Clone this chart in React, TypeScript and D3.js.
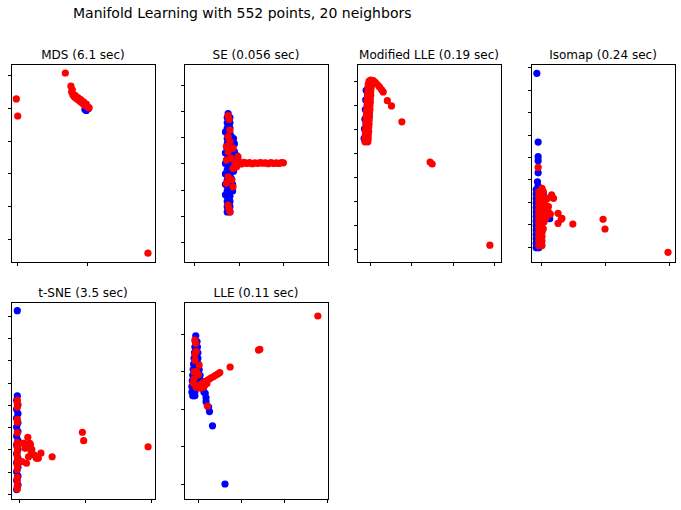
import React from "react";
import * as d3 from "d3";

type Pt = [number, number];

const suptitle = "Manifold Learning with 552 points, 20 neighbors";
const titles = ["MDS (6.1 sec)", "SE (0.056 sec)", "Modified LLE (0.19 sec)", "Isomap (0.24 sec)", "t-SNE (3.5 sec)", "LLE (0.11 sec)"];

// ---- MDS ----
const mdsBlue: Pt[] = [[0.99, 3.92], [1.0, 3.96], [0.97, 3.95], [1.02, 3.98]];
const mdsRed: Pt[] = [
  [0.69, 5.06], [0.77, 4.66], [0.79, 4.55], [0.78, 4.48], [0.80, 4.38], [0.82, 4.33], [0.84, 4.30],
  [0.86, 4.27], [0.88, 4.24], [0.90, 4.20], [0.92, 4.17], [0.94, 4.13], [0.96, 4.10], [0.98, 4.07],
  [1.00, 4.04], [1.02, 4.01], [1.03, 4.00], [0.83, 4.38], [0.87, 4.31], [0.91, 4.25], [0.95, 4.18],
  [0.99, 4.11], [-0.01, 4.27], [0.01, 3.75], [1.87, -0.43],
];

// ---- SE ----
const seBlue: Pt[] = [
  [0.74, 1.15], [0.80, 1.15], [0.74, 1.35], [0.80, 1.35], [0.74, 1.55], [0.80, 1.55], [0.74, 1.75], [0.80, 1.75],
  [0.74, 1.95], [0.80, 1.95], [0.74, 2.15], [0.80, 2.15], [0.74, 2.35], [0.80, 2.35], [0.74, 2.55], [0.80, 2.55],
  [0.74, 2.75], [0.80, 2.75], [0.74, 2.95], [0.80, 2.95], [0.74, 3.15], [0.80, 3.15], [0.74, 3.35], [0.80, 3.35],
  [0.74, 3.55], [0.80, 3.55], [0.74, 3.75], [0.80, 3.75], [0.74, 3.95], [0.80, 3.95], [0.74, 4.15], [0.80, 4.15],
  [0.74, 4.35], [0.80, 4.35], [0.74, 4.55], [0.80, 4.55], [0.74, 4.75], [0.80, 4.75], [0.76, 4.90],
  [0.86, 3.60], [0.90, 3.45], [0.95, 3.30], [0.98, 3.15], [0.92, 3.10], [0.86, 2.90], [0.88, 2.70], [0.84, 2.40],
  [0.86, 3.30], [0.84, 4.00], [0.86, 2.20], [0.70, 3.00], [0.70, 2.60], [0.70, 3.40], [0.70, 1.80],
  [0.90, 3.75], [0.94, 2.95], [0.88, 3.95], [0.86, 1.95], [0.70, 4.20], [0.70, 2.20],
];
const seRed: Pt[] = [
  [0.76, 4.82], [0.78, 4.68], [0.80, 4.27], [0.76, 4.02], [0.80, 3.83], [0.72, 3.64], [0.87, 3.58], [0.76, 3.45],
  [0.98, 3.26], [0.72, 3.13], [0.91, 3.02], [0.87, 2.81], [0.95, 2.87], [0.76, 2.49], [0.84, 2.37], [0.72, 2.24],
  [0.87, 2.11], [0.76, 1.41], [0.80, 1.16], [0.78, 1.28], [0.82, 3.20],
  [1.00, 3.05], [1.06, 2.98], [1.12, 3.04], [1.18, 3.00], [1.24, 3.03], [1.30, 2.99], [1.36, 3.02], [1.42, 3.00],
  [1.48, 3.03], [1.54, 3.01], [1.60, 3.02], [1.66, 2.99], [1.72, 3.03], [1.78, 3.00], [1.84, 3.02], [1.90, 3.00],
  [1.96, 3.03], [2.00, 3.02],
];

// ---- Modified LLE ----
const mlleBlue: Pt[] = [[-0.14, 4.6], [-0.13, 5.0], [-0.12, 5.4], [-0.11, 5.8], [-0.10, 6.2], [-0.09, 6.6]];
const mlleRed: Pt[] = [
  [-0.12, 4.46], [-0.05, 4.46], [-0.12, 4.60], [-0.04, 4.60], [-0.11, 4.75], [-0.04, 4.75], [-0.11, 4.90], [-0.03, 4.90],
  [-0.10, 5.05], [-0.03, 5.05], [-0.10, 5.20], [-0.02, 5.20], [-0.09, 5.35], [-0.02, 5.35], [-0.09, 5.50], [-0.01, 5.50],
  [-0.08, 5.65], [-0.01, 5.65], [-0.08, 5.80], [0.00, 5.80], [-0.07, 5.95], [0.00, 5.95], [-0.07, 6.10], [0.01, 6.10],
  [-0.06, 6.25], [0.01, 6.25], [-0.06, 6.40], [0.02, 6.40], [-0.05, 6.55], [0.02, 6.55], [-0.05, 6.70], [0.03, 6.70],
  [-0.04, 6.85], [0.03, 6.85], [-0.02, 6.98], [0.02, 7.02],
  [0.08, 7.00], [0.13, 6.93], [0.18, 6.84], [0.23, 6.74], [0.28, 6.63], [0.32, 6.53],
  [0.42, 6.17], [0.52, 5.95], [0.77, 5.29], [1.45, 3.62], [1.50, 3.54], [2.89, 0.17],
];

// ---- Isomap ----
const isoBlue: Pt[] = [
  [-0.06, 7.74], [-0.04, 4.67], [-0.04, 4.02], [-0.04, 3.84], [-0.04, 3.30], [-0.05, 2.90], [-0.04, 2.71],
  [-0.07, -0.05], [-0.03, -0.05], [-0.07, 0.15], [-0.07, 0.35], [-0.07, 0.55], [-0.07, 0.75], [-0.07, 0.95],
  [-0.07, 1.15], [-0.07, 1.35], [-0.07, 1.55], [-0.07, 1.75], [-0.07, 1.95], [-0.07, 2.15], [-0.07, 2.35],
  [-0.07, 2.55], [0.04, 2.38], [0.10, 1.30], [0.14, 1.25],
];
const isoRed: Pt[] = [
  [-0.04, 3.54],
  [-0.03, 0.05], [0.02, 0.05], [-0.03, 0.25], [0.02, 0.25], [-0.03, 0.45], [0.02, 0.45], [-0.03, 0.65], [0.02, 0.65],
  [-0.03, 0.85], [0.02, 0.85], [-0.03, 1.05], [0.02, 1.05], [-0.03, 1.25], [0.02, 1.25], [-0.03, 1.45], [0.02, 1.45],
  [-0.03, 1.65], [0.02, 1.65], [-0.03, 1.85], [0.02, 1.85], [-0.03, 2.05], [0.02, 2.05], [-0.03, 2.25], [0.02, 2.25],
  [-0.03, 2.45], [0.02, 2.60],
  [0.04, 2.46], [0.17, 2.31], [0.20, 2.16], [0.11, 2.16], [0.06, 1.64], [0.12, 1.56], [0.27, 1.49], [0.32, 1.22],
  [0.33, 1.27], [0.27, 1.04], [0.50, 1.01], [0.08, 1.28], [0.06, 2.00], [0.08, 1.85], [0.05, 1.10], [0.04, 0.80],
  [0.10, 1.75], [0.15, 1.45], [0.04, 1.94], [0.12, 1.79],
  [0.97, 1.22], [1.00, 0.79], [1.98, -0.25],
];

// ---- t-SNE ----
const tsneBlue: Pt[] = [
  [-0.03, 8.22],
  [-0.04, 0.20], [-0.02, 0.40], [-0.04, 0.60], [-0.02, 0.80], [-0.04, 1.00], [-0.02, 1.20], [-0.04, 1.40],
  [-0.02, 1.60], [-0.04, 1.80], [-0.02, 2.00], [-0.04, 2.20], [-0.02, 2.40], [-0.04, 2.60], [-0.02, 2.80],
  [-0.04, 3.00], [-0.02, 3.20], [-0.04, 3.40], [-0.02, 3.60], [-0.04, 3.80], [-0.02, 4.00], [-0.04, 4.20],
  [-0.03, 4.40],
];
const tsneRed: Pt[] = [
  [-0.03, 4.20], [-0.03, 4.05], [-0.03, 3.90], [-0.03, 3.35], [-0.03, 3.22], [-0.03, 2.75], [-0.03, 2.30],
  [-0.03, 2.10], [-0.03, 1.90], [-0.03, 1.70], [-0.03, 1.50], [-0.03, 1.30], [-0.03, 1.10], [-0.03, 0.75],
  [-0.03, 0.62], [-0.03, 0.35], [-0.03, 0.22],
  [0.13, 2.54], [0.06, 2.27], [0.16, 2.27], [0.09, 2.05], [0.18, 1.90], [0.23, 1.75], [0.14, 1.67], [0.26, 1.60],
  [0.33, 1.83], [0.29, 1.60], [0.04, 1.45], [0.11, 1.38], [0.17, 2.21], [0.07, 2.27], [0.19, 2.00],
  [0.50, 1.67], [0.96, 2.77], [0.98, 2.39], [1.96, 2.12],
];

// ---- LLE ----
const lleBlue: Pt[] = [
  [-0.06, 3.95], [-0.07, 3.80], [-0.03, 3.80], [-0.08, 3.65], [-0.02, 3.65], [-0.09, 3.50], [-0.01, 3.50],
  [-0.10, 3.35], [-0.01, 3.35], [-0.11, 3.20], [0.00, 3.20], [-0.12, 3.05], [-0.04, 3.05], [0.02, 3.05],
  [-0.13, 2.90], [-0.04, 2.90], [0.04, 2.90], [-0.14, 2.75], [-0.05, 2.75], [0.06, 2.75],
  [-0.15, 2.60], [-0.05, 2.60], [0.08, 2.60], [0.13, 2.60], [-0.15, 2.45], [-0.08, 2.45], [0.13, 2.45],
  [-0.13, 2.35], [-0.08, 2.35],
  [0.16, 2.42], [0.18, 2.19], [0.18, 2.30], [0.26, 1.93], [0.24, 2.05], [0.33, 1.55], [0.62, 0.0],
];
const lleRed: Pt[] = [
  [-0.08, 3.84], [-0.06, 3.75], [-0.05, 3.53], [-0.08, 3.47], [-0.08, 3.30], [0.02, 3.17], [-0.10, 2.99],
  [-0.04, 3.00], [0.00, 2.91], [-0.10, 2.80], [-0.12, 2.69], [-0.04, 2.59], [0.12, 2.58], [0.21, 2.08],
  [-0.05, 2.58], [0.00, 2.62], [0.05, 2.65], [0.10, 2.69], [0.15, 2.72], [0.20, 2.76], [0.25, 2.79],
  [0.30, 2.83], [0.35, 2.86], [0.40, 2.90], [0.45, 2.93], [0.50, 2.97],
  [0.05, 2.55], [0.10, 2.60], [0.15, 2.64], [0.20, 2.68],
  [0.74, 3.12], [1.40, 3.57], [1.43, 3.59], [2.78, 4.48],
];

const blueSets = [mdsBlue, seBlue, mlleBlue, isoBlue, tsneBlue, lleBlue];
const redSets = [mdsRed, seRed, mlleRed, isoRed, tsneRed, lleRed];

const xDomains: [number, number][] = [[-0.086, 1.971], [-0.23, 3.0], [-0.311, 3.158], [-0.151, 2.089], [-0.126, 2.065], [-0.333, 3.016]];
const yDomains: [number, number][] = [[-0.70, 5.335], [-0.76, 6.79], [-0.527, 7.69], [-0.683, 8.156], [-0.224, 8.61], [-0.4, 4.853]];
const xTickSets = [[0, 1], [0, 1, 2, 3], [0, 1, 2, 3], [0, 1, 2], [0, 1, 2], [0, 1, 2, 3]];
const yTickSets = [[0, 1, 2, 3, 4, 5], [0, 1, 2, 3, 4, 5, 6], [0, 1, 2, 3, 4, 5, 6, 7], [0, 1, 2, 3, 4, 5, 6, 7, 8], [0, 1, 2, 3, 4, 5, 6, 7, 8], [0, 1, 2, 3, 4]];

const W = 681;
const H = 510;
const FONT = "'DejaVu Sans', sans-serif";

export default function App() {
  const colLefts = [11, 184, 357, 531];
  const rowTops = [64, 302];
  const pw = 144;
  const ph = 198;
  const r = 3.6;

  return (
    <svg width={W} height={H} style={{ position: "absolute", left: 0, top: 0, background: "#fff" }} fontFamily={FONT}>
      <rect x={0} y={0} width={W} height={H} fill="#fff" />
      <text x={73} y={18} fontSize={14} fill="#000">{suptitle}</text>
      {titles.map((t, i) => {
        const col = i % 4;
        const row = Math.floor(i / 4);
        const x0 = colLefts[col];
        const y0 = rowTops[row];
        const h = row === 0 ? ph : 197;
        const xs = d3.scaleLinear().domain(xDomains[i]).range([x0, x0 + pw]);
        const ys = d3.scaleLinear().domain(yDomains[i]).range([y0 + h, y0]);
        return (
          <g key={i}>
            <text x={x0 + pw / 2} y={y0 - 5.5} fontSize={12} textAnchor="middle" fill="#000">{t}</text>
            <g>
              {blueSets[i].map((p, j) => (
                <circle key={"b" + j} cx={xs(p[0])} cy={ys(p[1])} r={r} fill="#0000ff" />
              ))}
              {redSets[i].map((p, j) => (
                <circle key={"r" + j} cx={xs(p[0])} cy={ys(p[1])} r={r} fill="#ff0000" />
              ))}
            </g>
            <rect x={x0 + 0.5} y={y0 + 0.5} width={pw} height={h} fill="none" stroke="#000" strokeWidth={1} />
            {xTickSets[i].map((v) => {
              const x = Math.round(xs(v)) + 0.5;
              return <line key={"xt" + v} x1={x} x2={x} y1={y0 + h + 0.5} y2={y0 + h + 4} stroke="#000" strokeWidth={1} />;
            })}
            {yTickSets[i].map((v) => {
              const y = Math.round(ys(v)) + 0.5;
              return <line key={"yt" + v} x1={x0 + 0.5} x2={x0 - 3} y1={y} y2={y} stroke="#000" strokeWidth={1} />;
            })}
          </g>
        );
      })}
    </svg>
  );
}
